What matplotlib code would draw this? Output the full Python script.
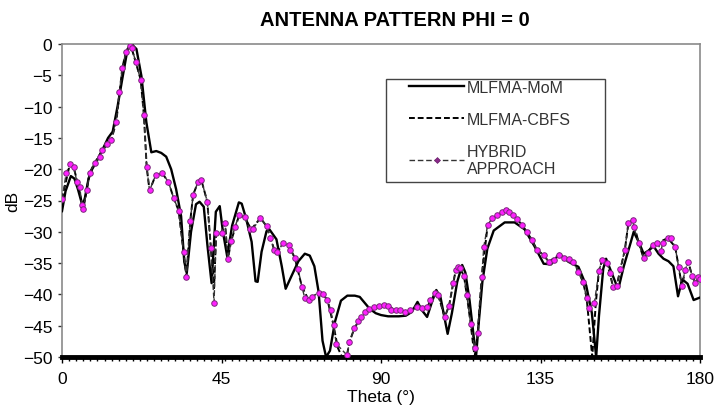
import matplotlib
matplotlib.use("Agg")
import matplotlib.pyplot as plt
from matplotlib.ticker import MultipleLocator
from matplotlib.patches import Rectangle
from matplotlib.lines import Line2D

plt.rcParams['font.family'] = ['Liberation Sans', 'DejaVu Sans']

# ---- data ----
hyb_theta = [0, 1.2, 2.2, 3.3, 4.2, 5.0, 5.6, 6.0, 7.0, 7.8, 9.2, 10.6, 11.4, 12.8, 13.9,
             15.3, 16.2, 17.0, 18.0, 19.2, 19.7, 20.8, 22.2, 23.1, 23.9, 24.7, 26.4, 28.2,
             30.0, 31.5, 32.9, 34.3, 35.1, 36.2, 37.0, 38.4, 39.3, 41.0, 42.0, 42.9, 43.5,
             45.0, 46.0, 46.8, 47.7, 48.8, 50.0, 51.5, 53.0, 53.8, 56.0, 57.7, 58.8, 59.9,
             60.7, 62.4, 64.0, 64.4, 65.7, 66.6, 67.7, 68.5, 69.6, 70.5, 72.4, 73.5, 74.9,
             75.8, 76.6, 77.4, 80.4, 81.1, 82.5, 83.6, 84.4, 85.5, 86.6, 88.0, 89.4, 90.8,
             91.9, 92.8, 94.2, 95.5, 96.9, 98.3, 100.2, 101.7, 103.0, 103.9, 105.3, 106.1,
             108.0, 109.2, 110.3, 111.1, 111.7, 112.4, 113.4, 114.2, 115.3, 116.4, 117.3,
             118.4, 119.0, 120.1, 121.4, 122.8, 124.2, 125.3, 126.2, 127.3, 128.4, 129.8,
             131.2, 132.6, 134.0, 135.9, 137.3, 138.7, 140.1, 141.5, 142.9, 144.3, 145.7,
             147.0, 148.0, 148.8, 150.2, 151.5, 152.4, 153.8, 154.6, 155.5, 156.5, 157.5,
             158.8, 159.8, 161.1, 161.3, 162.7, 164.1, 165.2, 166.6, 168.0, 169.0, 169.5,
             170.9, 171.7, 173.0, 174.0, 174.9, 175.8, 176.7, 177.8, 178.6, 179.5, 180.0]
hyb_db = [-24.8, -20.6, -19.2, -19.7, -22.0, -22.8, -25.7, -26.4, -23.3, -20.6, -19.0, -18.0,
          -17.0, -16.0, -15.3, -12.5, -7.7, -3.9, -1.3, -0.3, -0.6, -2.9, -5.7, -11.3, -19.7,
          -23.4, -21.0, -20.6, -22.0, -24.6, -26.6, -33.2, -37.2, -28.2, -24.1, -22.0, -21.7,
          -25.2, -32.6, -41.3, -30.2, -30.2, -28.6, -34.4, -31.5, -29.2, -27.3, -27.7, -29.6,
          -29.6, -27.8, -29.1, -31.0, -32.9, -33.3, -31.8, -32.1, -32.9, -34.2, -36.0, -38.8,
          -40.6, -40.9, -40.4, -39.7, -39.9, -40.9, -42.5, -44.9, -47.9, -49.7, -47.6, -45.4,
          -44.3, -43.6, -42.8, -42.4, -42.0, -41.8, -41.7, -41.8, -42.5, -42.5, -42.5, -42.8,
          -42.5, -42.0, -42.2, -42.0, -40.9, -39.8, -40.1, -43.6, -41.8, -38.2, -36.1, -35.6,
          -35.8, -37.0, -40.1, -44.7, -48.5, -46.2, -37.2, -32.4, -28.9, -27.8, -27.3, -26.8,
          -26.5, -26.8, -27.3, -28.0, -28.9, -30.0, -31.3, -32.9, -33.7, -34.8, -34.5, -33.7,
          -34.2, -34.3, -34.8, -36.4, -38.0, -40.5, -42.2, -41.4, -36.2, -34.5, -35.0, -36.6,
          -38.8, -38.6, -35.9, -32.9, -28.6, -28.1, -29.2, -31.8, -34.2, -33.4, -32.1, -31.8,
          -33.0, -31.8, -31.0, -31.0, -32.4, -35.7, -38.7, -36.1, -34.8, -37.1, -38.1, -37.2,
          -37.5]

cbfs_theta = [0, 2.2, 3.3, 4.5, 6.0, 7.8, 9.2, 11.4, 13.9, 15.3, 17.0, 18.0, 19.4, 20.8,
              22.2, 23.1, 23.9, 24.7, 26.4, 28.2, 30.0, 31.5, 32.9, 34.3, 35.1, 36.2, 37.0,
              38.4, 39.3, 41.0, 42.0, 42.9, 43.5, 45.0, 46.0, 46.8, 47.7, 50.0, 51.5, 53.4,
              56.0, 57.7, 59.9, 60.7, 62.4, 64.2, 65.7, 67.7, 69.6, 72.4, 73.5, 74.9, 76.6,
              77.8, 79.0, 80.4, 81.1, 82.5, 84.4, 86.6, 89.4, 91.9, 94.2, 96.9, 100.2, 103.0,
              105.3, 106.1, 108.0, 109.2, 111.1, 112.0, 113.4, 114.2, 115.3, 116.4, 117.3,
              118.4, 120.1, 122.8, 125.3, 127.3, 129.8, 132.6, 134.0, 135.9, 137.3, 140.1,
              142.9, 144.3, 145.7, 147.0, 148.0, 149.6, 150.6, 151.5, 152.4, 153.8, 155.5,
              156.5, 158.8, 159.8, 161.1, 162.7, 164.1, 165.2, 166.6, 168.0, 170.9, 173.0,
              174.0, 174.9, 175.8, 176.7, 177.8, 178.6, 180.0]
cbfs_db = [-24.8, -19.2, -19.7, -22.4, -26.4, -20.6, -19.0, -17.0, -15.3, -12.5, -3.9, -1.3,
           -0.2, -2.9, -5.7, -11.3, -19.7, -23.4, -21.0, -20.6, -22.0, -24.6, -26.6, -33.2,
           -37.2, -28.2, -24.1, -22.0, -21.7, -25.2, -32.6, -39.0, -30.2, -30.2, -28.6,
           -34.4, -31.5, -27.3, -27.7, -29.6, -27.8, -29.1, -32.9, -33.3, -31.8, -32.4,
           -34.2, -38.8, -40.9, -39.7, -39.9, -40.9, -44.9, -48.5, -50.0, -49.7, -47.6,
           -45.4, -43.6, -42.4, -41.8, -41.8, -42.5, -42.8, -42.0, -42.0, -39.8, -40.1,
           -43.6, -41.8, -36.1, -35.6, -37.0, -40.1, -44.7, -50.0, -46.2, -37.2, -28.9,
           -27.3, -26.5, -27.3, -28.9, -31.3, -32.9, -33.7, -34.8, -33.7, -34.3, -34.8,
           -36.4, -38.0, -40.5, -50.0, -41.4, -36.2, -34.5, -35.0, -38.8, -38.6, -32.9,
           -28.6, -28.1, -31.8, -34.2, -33.4, -32.1, -31.8, -31.0, -32.4, -35.7, -38.7,
           -36.1, -34.8, -37.1, -38.1, -37.5]

mom_theta = [0, 1.0, 2.5, 3.5, 4.5, 5.8, 6.5, 7.5, 8.5, 10.0, 12.0, 13.0, 14.3, 15.7, 17.0,
             18.5, 19.6, 21.0, 22.4, 23.8, 25.2, 26.6, 28.0, 29.4, 30.8, 32.2, 33.6, 34.5,
             35.2, 36.4, 37.8, 38.8, 40.0, 41.0, 42.2, 43.4, 44.5, 45.4, 46.6, 48.0, 49.9,
             50.7, 52.0, 53.5, 54.6, 55.2, 56.3, 57.7, 58.5, 60.5, 62.0, 63.1, 64.8, 66.7,
             68.5, 69.9, 71.2, 72.4, 73.5, 74.5, 75.6, 77.0, 78.7, 80.5, 82.6, 84.0, 86.8,
             88.5, 90.0, 92.0, 95.0, 97.0, 98.7, 100.3, 101.5, 103.0, 104.5, 105.6, 106.8,
             108.8, 110.0, 111.5, 112.9, 113.8, 115.0, 116.0, 116.8, 117.6, 118.6, 120.0,
             121.8, 124.9, 127.7, 130.5, 133.3, 135.9, 138.0, 140.3, 142.9, 145.7, 147.9,
             149.5, 150.7, 151.5, 152.7, 153.5, 154.9, 156.3, 157.1, 158.5, 160.5, 161.3,
             162.7, 164.1, 165.5, 166.9, 168.3, 169.7, 171.1, 172.5, 173.8, 175.0, 176.5,
             178.2, 180.0]
mom_db = [-26.7, -23.5, -21.1, -21.5, -23.2, -25.9, -24.5, -21.5, -20.0, -18.5, -16.2, -15.0,
          -14.0, -9.9, -5.6, -0.8, 0.0, -0.8, -5.1, -12.5, -17.3, -17.1, -17.4, -18.0, -20.0,
          -23.2, -27.5, -34.8, -36.6, -30.0, -25.6, -25.2, -26.0, -32.0, -38.2, -26.8, -25.9,
          -30.0, -33.9, -29.0, -25.3, -25.5, -28.0, -31.6, -37.9, -38.0, -33.2, -29.9, -29.6,
          -31.2, -35.5, -39.1, -37.0, -34.7, -33.5, -33.8, -35.5, -39.6, -47.4, -50.0, -49.0,
          -44.4, -41.0, -40.2, -40.2, -40.4, -42.3, -43.0, -43.3, -43.5, -43.5, -43.4, -42.8,
          -41.2, -42.5, -43.6, -41.0, -39.3, -40.5, -46.3, -43.0, -38.0, -35.3, -36.5, -41.0,
          -46.0, -50.0, -44.4, -38.0, -32.7, -29.8, -28.5, -28.5, -29.6, -32.3, -35.1, -35.2,
          -33.5, -34.8, -35.6, -38.6, -43.0, -50.0, -43.4, -35.9, -34.3, -36.3, -38.3, -38.8,
          -35.5, -31.6, -30.0, -31.6, -33.5, -33.0, -32.3, -33.5, -34.3, -34.7, -35.5, -40.3,
          -37.6, -38.3, -40.9, -40.5]

series_labels = ['MLFMA-MoM', 'MLFMA-CBFS', 'HYBRID\nAPPROACH']
x_ticks = [0, 45, 90, 135, 180]
y_ticks = [0, -5, -10, -15, -20, -25, -30, -35, -40, -45, -50]

W, H = 715, 410
AX_L, AX_R, AX_T, AX_B = 62, 700, 45, 358
fig = plt.figure(figsize=(W/100, H/100), dpi=100)
ax = fig.add_axes([AX_L/W, 1-AX_B/H, (AX_R-AX_L)/W, (AX_B-AX_T)/H])

def ax_x(px):
    return (px-AX_L)/(AX_R-AX_L)

def ax_y(py):
    return (AX_B-py)/(AX_B-AX_T)

ax.plot(mom_theta, mom_db, color='black', lw=1.7, solid_joinstyle='round', zorder=3)
ax.plot(cbfs_theta, cbfs_db, color='black', lw=1.4, ls=(0, (3, 1.5)), zorder=4)
ax.plot(hyb_theta, hyb_db, color='#333333', lw=1.0, ls=(0, (4, 2)),
        marker='o', ms=4.0, mfc='#ff20ff', mec='#7a2a7a', mew=0.7, zorder=5)

ax.set_xlim(0, 180)
ax.set_ylim(-50, 0)
ax.set_xticks(x_ticks)
ax.set_yticks(y_ticks)
ax.xaxis.set_minor_locator(MultipleLocator(2))
ax.tick_params(axis='x', which='major', length=4, width=1, pad=6, labelsize=12.5)
ax.tick_params(axis='x', which='minor', length=3, width=1)
ax.tick_params(axis='y', which='major', length=3, width=1, pad=4, labelsize=12.5,
               color='#333333')

for s in ['top', 'right', 'left']:
    ax.spines[s].set_color('#8a8a8a')
    ax.spines[s].set_linewidth(1.2)
ax.spines['bottom'].set_color('black')
ax.spines['bottom'].set_linewidth(3.5)

ax.set_xlabel('Theta (°)', fontsize=12.5, labelpad=2)
ax.set_ylabel('dB', fontsize=12.5, labelpad=2)
fig.text(395/W, 1-20/H, 'ANTENNA PATTERN PHI = 0', ha='center', va='center',
         fontsize=14.5, fontweight='bold')

# legend frame drawn separately (text overlaps its bottom edge as in the source)
ax.add_patch(Rectangle((ax_x(386), ax_y(183)), ax_x(605)-ax_x(386), ax_y(80)-ax_y(183),
                       transform=ax.transAxes, fill=True, facecolor='white',
                       edgecolor='#444444', lw=1.0, zorder=6))
proxies = [
    Line2D([], [], color='black', lw=1.7),
    Line2D([], [], color='black', lw=1.4, ls=(0, (3, 1.5))),
    Line2D([], [], color='#333333', lw=1.0, ls=(0, (4, 2)), marker='D', ms=3.0,
           mfc='#8a2a8a', mec='#6a1f6a', mew=0.5),
]
leg = ax.legend(proxies, series_labels, loc='upper left',
                bbox_to_anchor=(ax_x(409), ax_y(81)), frameon=False,
                fontsize=11.5, handlelength=3.45, labelspacing=1.05, borderpad=0,
                handletextpad=0.15, borderaxespad=0, numpoints=1)
leg.set_zorder(7)
for t in leg.get_texts():
    t.set_color('#333333')

fig.savefig('out.png', dpi=100)
